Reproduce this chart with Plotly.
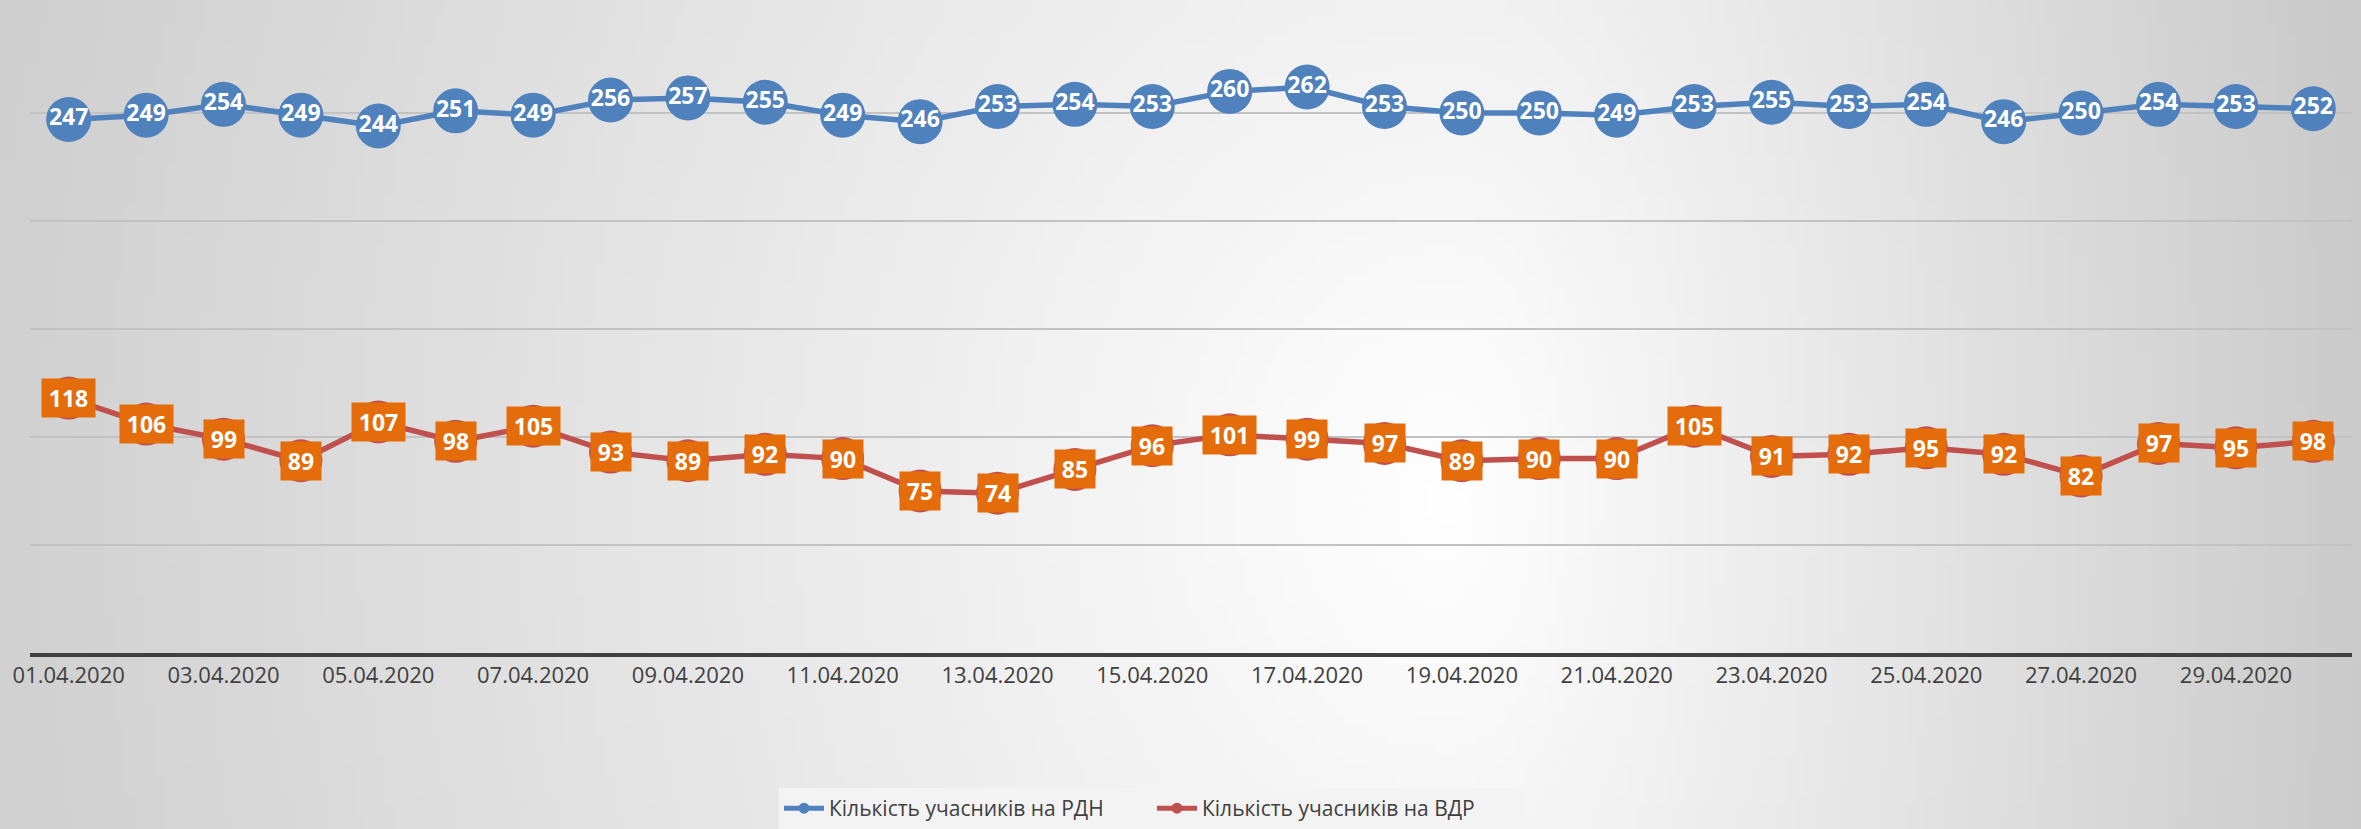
import base64
import struct
import zlib

import numpy as np
import plotly.graph_objects as go

# ---------------- data ----------------
dates = [
    "01.04.2020", "02.04.2020", "03.04.2020", "04.04.2020", "05.04.2020",
    "06.04.2020", "07.04.2020", "08.04.2020", "09.04.2020", "10.04.2020",
    "11.04.2020", "12.04.2020", "13.04.2020", "14.04.2020", "15.04.2020",
    "16.04.2020", "17.04.2020", "18.04.2020", "19.04.2020", "20.04.2020",
    "21.04.2020", "22.04.2020", "23.04.2020", "24.04.2020", "25.04.2020",
    "26.04.2020", "27.04.2020", "28.04.2020", "29.04.2020", "30.04.2020",
]
rdn = [247, 249, 254, 249, 244, 251, 249, 256, 257, 255, 249, 246, 253, 254, 253,
       260, 262, 253, 250, 250, 249, 253, 255, 253, 254, 246, 250, 254, 253, 252]
vdr = [118, 106, 99, 89, 107, 98, 105, 93, 89, 92, 90, 75, 74, 85, 96,
       101, 99, 97, 89, 90, 90, 105, 91, 92, 95, 92, 82, 97, 95, 98]
tick_labels = dates[::2]
name_rdn = "Кількість учасників на РДН"
name_vdr = "Кількість учасників на ВДР"

# ---------------- style ----------------
W, H = 2361, 829
BLUE = "#4F81BD"
RED = "#C0504D"
ORANGE = "#E46C0A"
FONT = "Open Sans"


# background gradient (radial, light centre) as an inline PNG
def gradient_png(w=236, h=83):
    xs = np.linspace(0, W, w)[None, :]
    ys = np.linspace(0, H, h)[:, None]
    cx, cy = 1450.0, 500.0
    dx = np.where(xs < cx, (xs - cx) / 1700.0, (xs - cx) / 950.0)
    dy = (ys - cy) / 2000.0
    r = np.clip(np.sqrt(dx ** 2 + dy ** 2), 0, 1.1)
    g = np.clip(255 - 54 * r, 0, 255).astype(np.uint8)
    raw = b"".join(b"\x00" + bytes(np.repeat(row, 3)) for row in g)

    def chunk(tag, data):
        c = struct.pack(">I", len(data)) + tag + data
        return c + struct.pack(">I", zlib.crc32(tag + data) & 0xFFFFFFFF)

    png = b"\x89PNG\r\n\x1a\n"
    png += chunk(b"IHDR", struct.pack(">IIBBBBB", w, h, 8, 2, 0, 0, 0))
    png += chunk(b"IDAT", zlib.compress(raw, 9))
    png += chunk(b"IEND", b"")
    return "data:image/png;base64," + base64.b64encode(png).decode()


fig = go.Figure()

# blue series with labels inside markers
fig.add_trace(go.Scatter(
    x=dates, y=rdn, mode="lines+markers+text",
    text=[str(v) for v in rdn], textposition="middle center",
    textfont=dict(family=FONT, size=23, color="white", weight="bold"),
    line=dict(color=BLUE, width=5.5),
    marker=dict(color=BLUE, size=45),
    showlegend=False, cliponaxis=False,
))

# red series
fig.add_trace(go.Scatter(
    x=dates, y=vdr, mode="lines+markers",
    line=dict(color=RED, width=5.5),
    marker=dict(color=RED, size=43),
    showlegend=False, cliponaxis=False,
))

# legend-only entries
fig.add_trace(go.Scatter(x=[None], y=[None], mode="lines+markers", name=name_rdn,
                         line=dict(color=BLUE, width=5), marker=dict(color=BLUE, size=11)))
fig.add_trace(go.Scatter(x=[None], y=[None], mode="lines+markers", name=name_vdr,
                         line=dict(color=RED, width=5), marker=dict(color=RED, size=11)))

# orange boxed labels for red series
for d, v in zip(dates, vdr):
    s = str(v)
    fig.add_annotation(
        x=d, y=v, xref="x", yref="y", text="<b>%s</b>" % s, showarrow=False,
        font=dict(family=FONT, size=23, color="white"),
        bgcolor=ORANGE, borderpad=4, width=13 * len(s) + 6, height=30,
    )

fig.update_layout(
    width=W, height=H,
    margin=dict(l=0, r=0, t=0, b=0),
    paper_bgcolor="white",
    plot_bgcolor="rgba(0,0,0,0)",
    font=dict(family=FONT, color="#404040"),
    images=[dict(source=gradient_png(), xref="paper", yref="paper", x=0, y=1,
                 sizex=1, sizey=1, sizing="stretch", xanchor="left", yanchor="top",
                 layer="below")],
    legend=dict(orientation="h", x=1152 / W, xanchor="center", y=0, yanchor="bottom",
                bgcolor="#f3f3f3", font=dict(family=FONT, size=21, color="#404040"),
                entrywidth=318, itemwidth=40),
    xaxis=dict(
        type="category", domain=[30 / W, 2352 / W], range=[-0.5, 29.5],
        tickmode="array", tickvals=tick_labels, ticktext=tick_labels,
        tickfont=dict(family=FONT, size=22, color="#404040"),
        showline=True, linecolor="#404040", linewidth=4, showgrid=False,
        ticks="", automargin=False, fixedrange=True,
    ),
    yaxis=dict(
        domain=[(H - 653) / H, (H - 5) / H], range=[0, 300], dtick=50,
        showticklabels=False, showgrid=True, gridcolor="#c2c2c2", gridwidth=2,
        zeroline=False, automargin=False, fixedrange=True,
    ),
)

fig.write_html(
    "out.html",
    config={"displayModeBar": False},
    post_script="document.body.style.margin='0';document.body.style.overflow='hidden';",
)
